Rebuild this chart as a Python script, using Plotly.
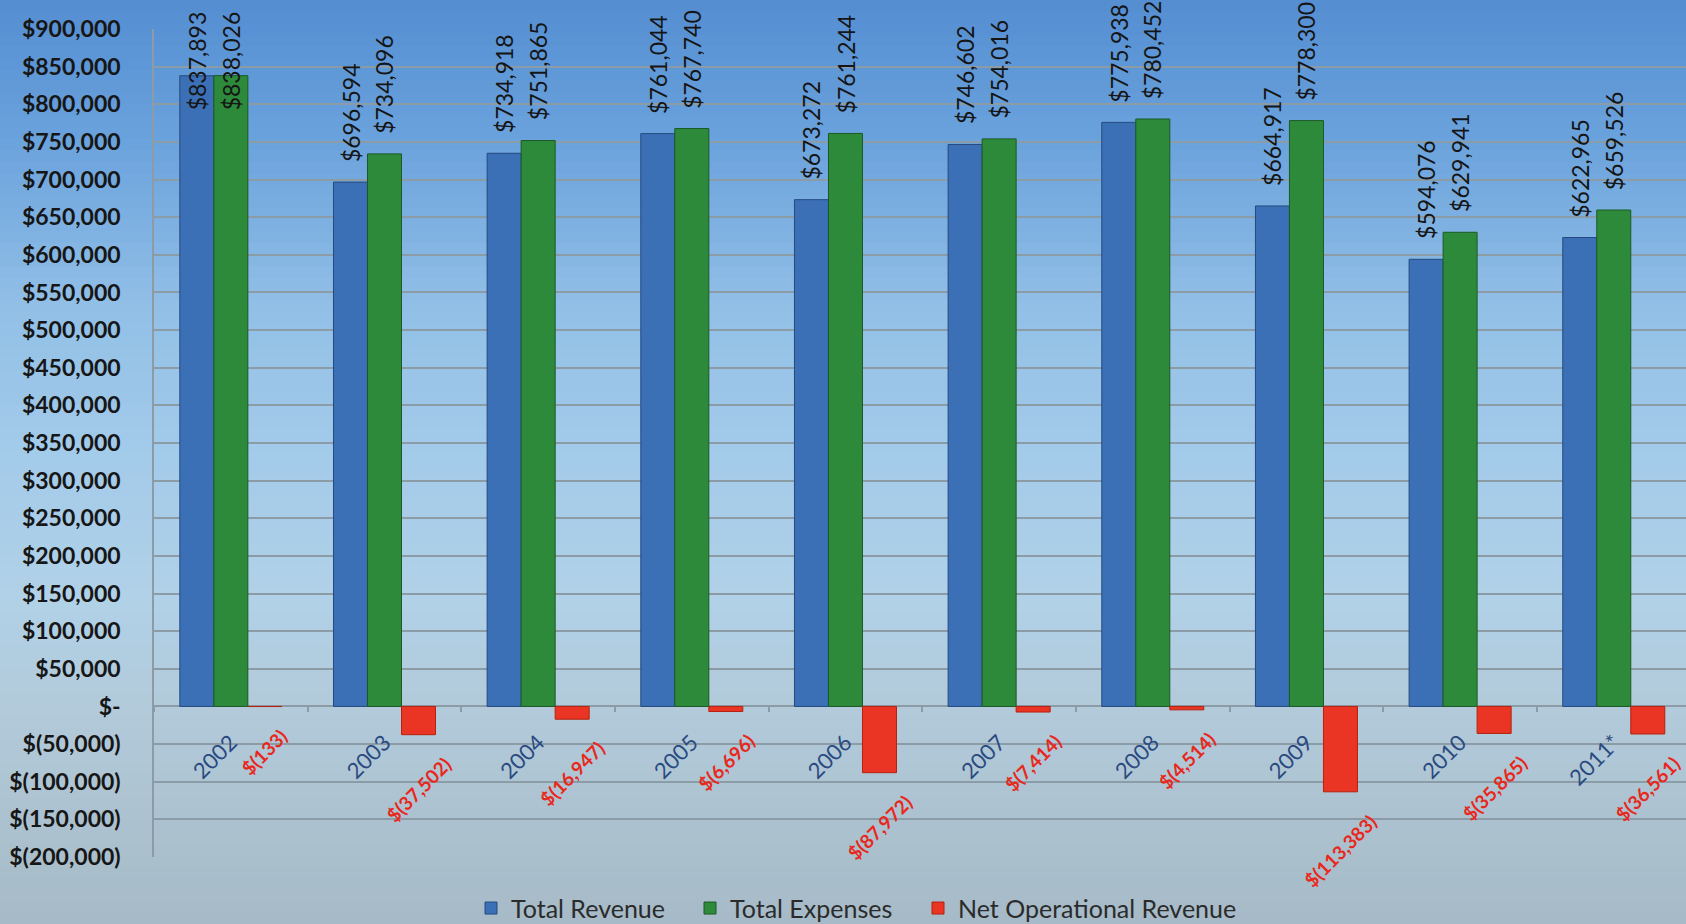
import plotly.graph_objects as go

# ---------------- data ----------------
YEARS = ["2002", "2003", "2004", "2005", "2006", "2007", "2008", "2009", "2010", "2011*"]
TOTAL_REVENUE = [837893, 696594, 734918, 761044, 673272, 746602, 775938, 664917, 594076, 622965]
TOTAL_EXPENSES = [838026, 734096, 751865, 767740, 761244, 754016, 780452, 778300, 629941, 659526]
NET_OPERATIONAL_REVENUE = [-133, -37502, -16947, -6696, -87972, -7414, -4514, -113383, -35865, -36561]
Y_TICK_VALUES = list(range(-200000, 900001, 50000))
SERIES_NAMES = ["Total Revenue", "Total Expenses", "Net Operational Revenue"]


def money(v):
    if v == 0:
        return "$-"
    if v < 0:
        return "$({:,})".format(abs(v))
    return "${:,}".format(v)


Y_TICK_LABELS = [money(v) for v in Y_TICK_VALUES]

# ---------------- style ----------------
W, H = 1686, 924
M_L, M_R, M_T, M_B = 154, 0, 29, 67
Y_MIN, Y_MAX = -200000, 900000
BARGAP = 0.336
BW = (1 - BARGAP) / 3  # width of one bar in category units
FONT = "Lato"
BLUE, GREEN, RED = "#3b70b6", "#2d8a3a", "#ea3424"
GRID = "#8c9ca7"
LEGEND_LEFT_PX = [471, 690, 918]  # left edge of each legend entry box

fig = go.Figure()
legend_ids = ["legend", "legend2", "legend3"]
for name, vals, col, edge, lg in (
    (SERIES_NAMES[0], TOTAL_REVENUE, BLUE, "#244a80", legend_ids[0]),
    (SERIES_NAMES[1], TOTAL_EXPENSES, GREEN, "#1b5a25", legend_ids[1]),
    (SERIES_NAMES[2], NET_OPERATIONAL_REVENUE, RED, "#b5220f", legend_ids[2]),
):
    fig.add_trace(go.Bar(
        x=YEARS, y=vals, name=name, legend=lg,
        marker=dict(color=col, line=dict(color=edge, width=1)),
        hoverinfo="x+y+name",
    ))

annotations = []
for i, (rev, exp, net) in enumerate(zip(TOTAL_REVENUE, TOTAL_EXPENSES, NET_OPERATIONAL_REVENUE)):
    for val, off in ((rev, -BW), (exp, 0.0)):
        near_top = val > 800000
        annotations.append(dict(
            x=i + off, y=Y_MAX if near_top else val, xref="x", yref="y",
            text=money(val), textangle=-90, showarrow=False,
            xanchor="center", yanchor="top" if near_top else "bottom",
            yshift=20 if near_top else 18,
            font=dict(family=FONT, size=23, color="#151515"),
        ))
    annotations.append(dict(
        x=i + BW, y=net, xref="x", yref="y",
        text=money(net), textangle=-45, showarrow=False,
        xanchor="center", yanchor="top", yshift=-15,
        font=dict(family=FONT, size=19, color="#e8281c", weight="bold"),
    ))

# background gradient (vertical) built from shapes in paper coords
stops = [
    (0.00, (84, 142, 210)),
    (0.15, (106, 162, 220)),
    (0.33, (145, 191, 230)),
    (0.50, (164, 203, 234)),
    (0.65, (177, 209, 231)),
    (0.77, (178, 202, 218)),
    (1.00, (166, 186, 198)),
]


def color_at(t):
    for (t0, c0), (t1, c1) in zip(stops[:-1], stops[1:]):
        if t0 <= t <= t1:
            f = (t - t0) / (t1 - t0) if t1 > t0 else 0
            return "rgb({},{},{})".format(*[round(a + (b - a) * f) for a, b in zip(c0, c1)])
    return "rgb({},{},{})".format(*stops[-1][1])


plot_w = W - M_L - M_R
plot_h = H - M_T - M_B
shapes = []
N = 80
for k in range(N):
    top_px = H * k / N
    bot_px = H * (k + 1) / N + 1
    y1 = (H - M_B - top_px) / plot_h
    y0 = (H - M_B - bot_px) / plot_h
    shapes.append(dict(
        type="rect", xref="paper", yref="paper",
        x0=-M_L / plot_w - 0.01, x1=1.01, y0=y0, y1=y1,
        fillcolor=color_at((k + 0.5) / N), line=dict(width=0), layer="below",
    ))

zero_pos = (0 - Y_MIN) / (Y_MAX - Y_MIN)

legend_common = dict(
    orientation="h", xref="container", yref="container",
    xanchor="left", y=0.017, yanchor="middle",
    font=dict(family=FONT, size=25, color="#2b2b2b"),
    bgcolor="rgba(0,0,0,0)", itemwidth=30,
)
legends = {lid: dict(legend_common, x=px / W) for lid, px in zip(legend_ids, LEGEND_LEFT_PX)}

fig.update_layout(
    width=W, height=H,
    margin=dict(l=M_L, r=M_R, t=M_T, b=M_B, pad=0, autoexpand=False),
    paper_bgcolor="rgb(166,186,198)",
    plot_bgcolor="rgba(0,0,0,0)",
    barmode="group", bargap=BARGAP, bargroupgap=0,
    font=dict(family=FONT, color="#222"),
    shapes=shapes,
    annotations=annotations,
    showlegend=True,
    **legends,
    xaxis=dict(
        type="category", range=[-0.5, 9.47],
        anchor="free", position=zero_pos,
        showgrid=False, showline=False, zeroline=False,
        ticks="outside", tickson="boundaries", ticklen=5, tickcolor=GRID, tickwidth=1.5,
        tickangle=-45, ticklabelstandoff=18,
        tickfont=dict(family=FONT, size=22, color="#2a4a80"),
    ),
    yaxis=dict(
        range=[Y_MIN, Y_MAX],
        tickvals=Y_TICK_VALUES, ticktext=Y_TICK_LABELS,
        showgrid=True, gridcolor=GRID, gridwidth=1.5,
        zeroline=True, zerolinecolor=GRID, zerolinewidth=1.5,
        showline=True, linecolor=GRID, linewidth=1.5,
        ticks="", ticklabelstandoff=27,
        tickfont=dict(family=FONT, size=23, color="#161616", weight="bold"),
    ),
)

fig.write_html(
    "out.html",
    config={"displayModeBar": False},
    post_script="document.body.style.margin='0';document.body.style.overflow='hidden';",
)
